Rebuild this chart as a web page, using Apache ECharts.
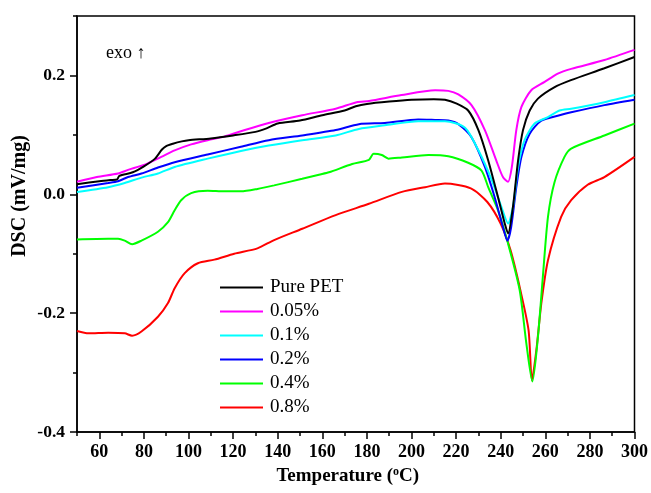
<!DOCTYPE html>
<html>
<head>
<meta charset="utf-8">
<script src="https://cdn.jsdelivr.net/npm/echarts@6/dist/echarts.min.js"></script>
<style>
  html, body { margin: 0; padding: 0; background: #fff; }
  #chart { width: 651px; height: 493px; }
</style>
</head>
<body>
<div id="chart"></div>
<script>
// DSC curves, [temperature (°C), DSC (mV/mg)]
const purePET = [
    [50, 0.017], [60, 0.022], [65, 0.024], [68, 0.025], [69, 0.031], [75, 0.037], [80, 0.047],
    [85, 0.060], [88, 0.075], [90, 0.081], [93, 0.085], [97, 0.089], [100, 0.091], [110, 0.094],
    [120, 0.099], [130, 0.105], [135, 0.111], [140, 0.119], [150, 0.124], [160, 0.133], [170, 0.141],
    [175, 0.148], [180, 0.152], [190, 0.156], [200, 0.159], [210, 0.160], [215, 0.159], [220, 0.153],
    [225.4, 0.141], [230, 0.108], [234.4, 0.057], [238.8, -0.005], [241.8, -0.049], [243.3, -0.066],
    [245.5, -0.021], [247.8, 0.057], [250, 0.108], [253, 0.141], [256.7, 0.161], [264, 0.180],
    [271.5, 0.192], [286.5, 0.212], [300, 0.231]
];
const pet005 = [
    [50, 0.021], [58.9, 0.029], [68.4, 0.035], [72.9, 0.041], [80.4, 0.050], [87.8, 0.063],
    [93.8, 0.074], [101.2, 0.084], [108.6, 0.091], [116, 0.097], [123.5, 0.106], [136, 0.120],
    [151, 0.133], [166, 0.144], [175.4, 0.155], [181, 0.157], [195.5, 0.167], [210.6, 0.175],
    [216.5, 0.174], [221, 0.168], [226.9, 0.150], [232.9, 0.108], [238, 0.057], [241, 0.029],
    [243.3, 0.021], [245, 0.046], [247, 0.108], [249.3, 0.147], [253.7, 0.175], [259.7, 0.189],
    [265.6, 0.203], [271.6, 0.211], [286.5, 0.226], [300, 0.243]
];
const pet01 = [
    [50, 0.004], [64, 0.012], [71.4, 0.019], [78.9, 0.028], [86.3, 0.035], [93.8, 0.046],
    [108.6, 0.060], [123.5, 0.073], [136, 0.082], [151, 0.091], [166, 0.099], [176.4, 0.110],
    [188, 0.116], [203, 0.123], [215, 0.123], [224, 0.112], [230, 0.074], [236, 0.024],
    [240.3, -0.021], [243.3, -0.049], [245.5, -0.021], [247.8, 0.046], [250.7, 0.091],
    [255.2, 0.119], [261.2, 0.130], [266.4, 0.141], [271.6, 0.144], [286.5, 0.155], [300, 0.167]
];
const pet02 = [
    [50, 0.011], [64, 0.019], [68.4, 0.022], [72.9, 0.029], [78.9, 0.035], [86.3, 0.045],
    [93.8, 0.054], [108.6, 0.067], [123.5, 0.080], [136, 0.091], [151, 0.099], [166, 0.108],
    [176.4, 0.118], [188, 0.120], [203, 0.126], [210.6, 0.125], [216.5, 0.124], [221, 0.118],
    [226.9, 0.096], [232.9, 0.046], [237.3, -0.005], [241, -0.055], [243, -0.078], [244.7, -0.055],
    [247, 0.012], [249.3, 0.063], [253, 0.102], [258.2, 0.124], [266.4, 0.133], [271.6, 0.138],
    [286.5, 0.150], [300, 0.159]
];
const pet04 = [
    [50, -0.076], [64, -0.075], [68.4, -0.075], [71.4, -0.078], [74.7, -0.084], [78.9, -0.078],
    [86.3, -0.063], [90.8, -0.047], [93.8, -0.027], [96.7, -0.010], [101.2, 0.002], [108.6, 0.006],
    [116, 0.005], [123.5, 0.005], [130.9, 0.009], [138.4, 0.015], [151, 0.026], [158.5, 0.033],
    [163, 0.037], [173.4, 0.051], [180.9, 0.058], [183, 0.068], [186.7, 0.066], [189.7, 0.060],
    [195.7, 0.062], [207.6, 0.066], [216.5, 0.064], [225.4, 0.053], [231.4, 0.040], [234.4, 0.012],
    [238.8, -0.027], [243.3, -0.083], [248.5, -0.161], [251.5, -0.251], [254.2, -0.315],
    [256.7, -0.240], [258.9, -0.139], [261.2, -0.038], [264.1, 0.020], [268.6, 0.063],
    [271.6, 0.077], [286.5, 0.099], [300, 0.119]
];
const pet08 = [
    [50, -0.230], [55.2, -0.234], [64, -0.233], [71.4, -0.234], [74.7, -0.238], [78.9, -0.231],
    [86.3, -0.206], [90.8, -0.183], [93.8, -0.158], [98.2, -0.133], [104.2, -0.116], [111.6, -0.110],
    [120.5, -0.100], [130.9, -0.091], [138.4, -0.077], [151, -0.058], [166, -0.035], [180.9, -0.016],
    [195.7, 0.004], [206.1, 0.012], [215, 0.018], [226.6, 0.010], [234, -0.013], [239.9, -0.049],
    [244.4, -0.094], [248.8, -0.161], [252.5, -0.229], [254, -0.313], [256, -0.262], [258.2, -0.184],
    [261.2, -0.111], [267.1, -0.038], [271.6, -0.010], [279, 0.016], [286.5, 0.029], [300, 0.063]
];

const seriesNames = ["Pure PET", "0.05%", "0.1%", "0.2%", "0.4%", "0.8%"];
const seriesData = [purePET, pet005, pet01, pet02, pet04, pet08];
const seriesColors = ["#000000", "#ff00ff", "#00ffff", "#0000ff", "#00ff00", "#ff0000"];

const xMajorTicks = [60, 80, 100, 120, 140, 160, 180, 200, 220, 240, 260, 280, 300];
const yMajorTicks = [-0.4, -0.2, 0, 0.2];

const serif = "'Liberation Serif', 'Times New Roman', serif";

const getOption = () => {
    const series = seriesNames.map((name, i) => ({
        name: name,
        type: "line",
        data: seriesData[i],
        xAxisIndex: 0,
        yAxisIndex: 0,
        smooth: 0.25,
        showSymbol: false,
        lineStyle: { color: seriesColors[i], width: 2 },
        itemStyle: { color: seriesColors[i] },
        z: 10 - i
    }));

    return {
        animation: false,
        grid: {
            left: 77, right: 14, top: 16, bottom: 61,
            show: true, borderColor: "#000", borderWidth: 1.5,
            containLabel: false
        },
        legend: {
            orient: "vertical",
            left: 215,
            top: 273,
            icon: "rect",
            itemWidth: 43,
            itemHeight: 2,
            itemGap: 5,
            textStyle: { fontFamily: serif, fontSize: 19, color: "#000", padding: [0, 0, 0, 2] },
            data: seriesNames
        },
        graphic: [
            {
                type: "text",
                left: 106,
                top: 44,
                style: { text: "exo \u2191", font: "18px " + serif, fill: "#000" }
            },
            {
                type: "text",
                x: 20,
                y: 196,
                rotation: Math.PI / 2,
                style: {
                    text: "DSC (mV/mg)", font: "bold 20px " + serif, fill: "#000",
                    align: "center", verticalAlign: "middle"
                }
            }
        ],
        xAxis: [
            {
                type: "value",
                min: 50, max: 300, interval: 10,
                name: "Temperature ({s|o}C)",
                nameLocation: "middle",
                nameGap: 33,
                nameTextStyle: {
                    fontFamily: serif, fontSize: 19, fontWeight: "bold", color: "#000",
                    padding: [0, 16, 0, 0],
                    rich: { s: { fontFamily: serif, fontSize: 12, fontWeight: "bold", verticalAlign: "top", padding: [0, 0, 8, 0] } }
                },
                axisLine: { show: true, onZero: false, lineStyle: { color: "#000", width: 1.5 } },
                axisTick: { show: true, inside: false, length: 4, lineStyle: { color: "#000", width: 1.5 } },
                axisLabel: {
                    margin: 11,
                    fontFamily: serif, fontSize: 18, fontWeight: "bold", color: "#000",
                    formatter: v => (Math.round(v) % 20 === 0 ? String(Math.round(v)) : "")
                },
                splitLine: { show: false }
            },
            {
                type: "value",
                min: 50, max: 300,
                position: "bottom",
                axisLine: { show: false, onZero: false },
                axisTick: { show: true, inside: false, length: 7, customValues: xMajorTicks, lineStyle: { color: "#000", width: 1.5 } },
                axisLabel: { show: false },
                splitLine: { show: false }
            }
        ],
        yAxis: [
            {
                type: "value",
                min: -0.4, max: 0.3, interval: 0.1,
                axisLine: { show: true, onZero: false, lineStyle: { color: "#000", width: 1.5 } },
                axisTick: { show: true, inside: false, length: 4, lineStyle: { color: "#000", width: 1.5 } },
                axisLabel: {
                    margin: 12,
                    fontFamily: serif, fontSize: 17.5, fontWeight: "bold", color: "#000",
                    formatter: v => {
                        const k = Math.round(v * 10);
                        if (k % 2 !== 0 || k > 2) return "";
                        return (k / 10).toFixed(1);
                    }
                },
                splitLine: { show: false }
            },
            {
                type: "value",
                min: -0.4, max: 0.3,
                position: "left",
                axisLine: { show: false, onZero: false },
                axisTick: { show: true, inside: false, length: 7, customValues: yMajorTicks, lineStyle: { color: "#000", width: 1.5 } },
                axisLabel: { show: false },
                splitLine: { show: false }
            }
        ],
        series: series
    };
};

document.addEventListener("DOMContentLoaded", function() {
    const chart = echarts.init(document.getElementById("chart"), null, { renderer: "canvas" });
    chart.setOption(getOption());
});
</script>
</body>
</html>
